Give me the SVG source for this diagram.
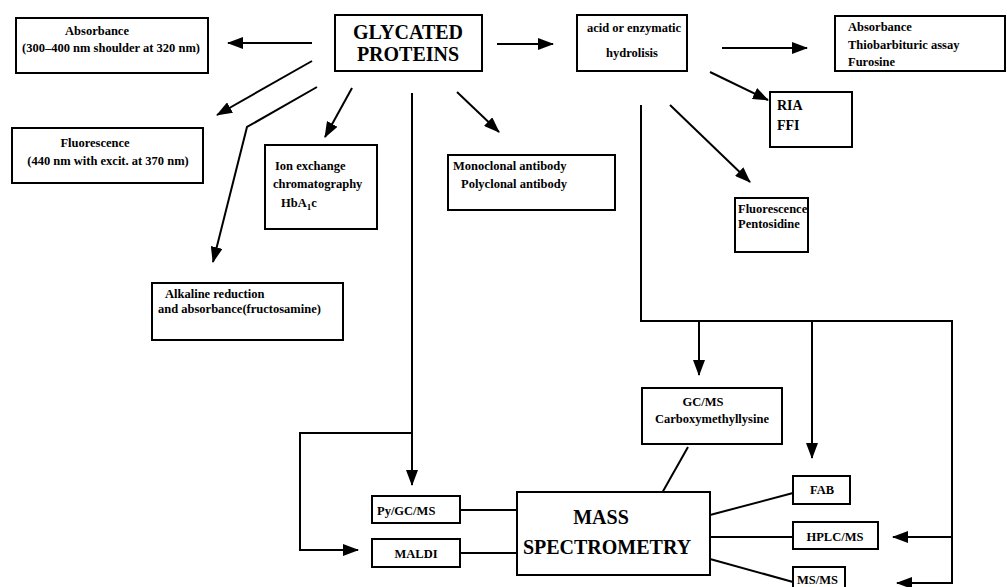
<svg xmlns="http://www.w3.org/2000/svg" width="1007" height="587" viewBox="0 0 1007 587">
<style>
.box{fill:#fff;stroke:#000;stroke-width:2}
.t{font-family:"Liberation Serif","Times New Roman",serif;font-weight:bold;font-size:12.5px;fill:#000}
.big{font-family:"Liberation Serif","Times New Roman",serif;font-weight:bold;font-size:20px;fill:#000}
.mid{font-size:14px}
.c{text-anchor:middle}
.ln{fill:none;stroke:#000;stroke-width:2}
.ar{marker-end:url(#ah)}
</style>
<defs>
<marker id="ah" markerUnits="userSpaceOnUse" markerWidth="16" markerHeight="12" refX="15" refY="6" orient="auto">
<path d="M0,0 L16,6 L0,12 Z" fill="#000"/>
</marker>
</defs>
<rect width="1007" height="587" fill="#fff"/>
<g id="connectors">
<line class="ln ar" x1="312" y1="43" x2="228" y2="43"/>
<line class="ln ar" x1="312" y1="61" x2="217" y2="115"/>
<polyline class="ln ar" points="317,87 247,127 213,262"/>
<line class="ln ar" x1="352" y1="88" x2="325" y2="137"/>
<line class="ln ar" x1="412" y1="93" x2="412" y2="485"/>
<line class="ln ar" x1="457" y1="92" x2="499" y2="132"/>
<line class="ln ar" x1="497" y1="44" x2="553" y2="44"/>
<line class="ln ar" x1="722" y1="48" x2="807" y2="48"/>
<line class="ln ar" x1="710" y1="72" x2="768" y2="100"/>
<line class="ln ar" x1="670" y1="105" x2="750" y2="182"/>
<polyline class="ln ar" points="641,105 641,321 952,321 952,583 897,583"/>
<line class="ln ar" x1="699" y1="321" x2="699" y2="375"/>
<line class="ln ar" x1="812" y1="321" x2="812" y2="458"/>
<line class="ln ar" x1="952" y1="537" x2="893" y2="537"/>
<polyline class="ln ar" points="412,433 300,433 300,550 358,550"/>
<line class="ln" x1="688" y1="447" x2="662" y2="493"/>
<line class="ln" x1="710" y1="515" x2="793" y2="493"/>
<line class="ln" x1="710" y1="537" x2="793" y2="537"/>
<line class="ln" x1="710" y1="559" x2="793" y2="582"/>
<line class="ln" x1="460" y1="510" x2="517" y2="510"/>
<line class="ln" x1="460" y1="553" x2="517" y2="553"/>
</g>
<g id="glycated">
<rect class="box" x="335" y="15" width="147" height="56"/>
<text class="big c" x="408" y="39">GLYCATED</text>
<text class="big c" x="408" y="61">PROTEINS</text>
</g>
<g id="absorbance">
<rect class="box" x="16" y="18" width="192" height="55"/>
<text class="t c" x="97" y="35">Absorbance</text>
<text class="t c" x="111" y="52">(300–400 nm shoulder at 320 nm)</text>
</g>
<g id="fluorescence">
<rect class="box" x="12" y="128" width="191" height="55"/>
<text class="t c" x="95" y="147">Fluorescence</text>
<text class="t c" x="108" y="165">(440 nm with excit. at 370 nm)</text>
</g>
<g id="ion-exchange">
<rect class="box" x="265" y="145" width="112" height="84"/>
<text class="t" x="275" y="170">Ion exchange</text>
<text class="t" x="273" y="188">chromatography</text>
<text class="t" x="281" y="207">HbA<tspan font-size="9" dy="3">1</tspan><tspan dy="-3">c</tspan></text>
</g>
<g id="alkaline">
<rect class="box" x="152" y="283" width="191" height="57"/>
<text class="t" x="165" y="298">Alkaline reduction</text>
<text class="t" x="158" y="313">and absorbance(fructosamine)</text>
</g>
<g id="antibody">
<rect class="box" x="448" y="155" width="167" height="55"/>
<text class="t" x="453" y="170">Monoclonal antibody</text>
<text class="t" x="461" y="188">Polyclonal antibody</text>
</g>
<g id="hydrolisis">
<rect class="box" x="577" y="15" width="110" height="56"/>
<text class="t c" x="634" y="32">acid or enzymatic</text>
<text class="t c" x="632" y="57">hydrolisis</text>
</g>
<g id="thiobarbituric">
<rect class="box" x="835" y="16" width="170" height="55"/>
<text class="t" x="848" y="31">Absorbance</text>
<text class="t" x="848" y="49">Thiobarbituric assay</text>
<text class="t" x="848" y="66">Furosine</text>
</g>
<g id="ria">
<rect class="box" x="770" y="92" width="82" height="55"/>
<text class="t mid" x="777" y="110">RIA</text>
<text class="t mid" x="777" y="130">FFI</text>
</g>
<g id="pentosidine">
<rect class="box" x="735" y="198" width="73" height="54"/>
<text class="t" x="738" y="213" font-size="11">Fluorescence</text>
<text class="t" x="738" y="228" font-size="11">Pentosidine</text>
</g>
<g id="gcms">
<rect class="box" x="642" y="388" width="140" height="56"/>
<text class="t c" x="703" y="406">GC/MS</text>
<text class="t c" x="712" y="423">Carboxymethyllysine</text>
</g>
<g id="mass-spectrometry">
<rect class="box" x="517" y="492" width="193" height="83"/>
<text class="big c" x="601" y="524" font-size="19">MASS</text>
<text class="big c" x="607" y="554" font-size="19">SPECTROMETRY</text>
</g>
<g id="pygcms">
<rect class="box" x="372" y="496" width="88" height="27"/>
<text class="t" x="377" y="515">Py/GC/MS</text>
</g>
<g id="maldi">
<rect class="box" x="372" y="539" width="88" height="28"/>
<text class="t c" x="416" y="558">MALDI</text>
</g>
<g id="fab">
<rect class="box" x="793" y="476" width="57" height="28"/>
<text class="t c" x="822" y="494">FAB</text>
</g>
<g id="hplcms">
<rect class="box" x="793" y="522" width="85" height="27"/>
<text class="t c" x="835" y="541">HPLC/MS</text>
</g>
<g id="msms">
<rect class="box" x="793" y="567" width="52" height="24"/>
<text class="t" x="797" y="584">MS/MS</text>
</g>
</svg>
